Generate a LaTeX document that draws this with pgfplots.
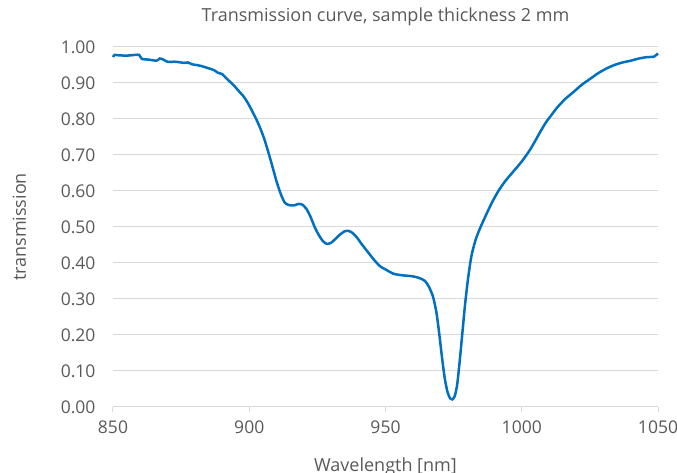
\documentclass[border=0pt]{standalone}
\usepackage{pgfplots}
\pgfplotsset{compat=1.18}
\usepackage{fontspec}
\setmainfont{Open Sans}
\definecolor{txtgray}{HTML}{595959}
\definecolor{gridgray}{HTML}{D9D9D9}
\definecolor{curveblue}{HTML}{0070C0}
\begin{document}
\begin{tikzpicture}
\begin{axis}[
  name=ax,
  scale only axis,
  width=545pt, height=360pt,
  xmin=850, xmax=1050, ymin=0, ymax=1,
  xtick={850,900,...,1050},
  ytick={0,0.1,...,1.01},
  axis x line*=bottom,
  axis y line*=left,
  x axis line style={draw=gridgray, line width=1pt, -},
  y axis line style={draw=none},
  xtick style={draw=gridgray, line width=1pt},
  ytick style={draw=none},
  tick align=outside,
  major tick length=5pt,
  ymajorgrids,
  grid style={draw=gridgray, line width=1pt},
  /pgf/number format/assume math mode=true,
  /pgf/number format/1000 sep={},
  yticklabel style={/pgf/number format/fixed, /pgf/number format/fixed zerofill, /pgf/number format/precision=2},
  ticklabel style={font=\fontsize{17.5}{21}\selectfont, text=txtgray},
  xticklabel style={yshift=-5pt},
  yticklabel style={xshift=-9pt},
  title={Transmission curve, sample thickness 2 mm},
  title style={font=\fontsize{18}{21}\selectfont, text=txtgray, at={(axis description cs:0.5,1)}, anchor=base, yshift=19pt},
  ylabel={transmission},
  ylabel style={font=\fontsize{18}{21}\selectfont, text=txtgray, at={(axis description cs:-0.172,0.5)}, anchor=center},
  xlabel={Wavelength [nm]},
  xlabel style={font=\fontsize{18}{21}\selectfont, text=txtgray, at={(axis description cs:0.5,0)}, anchor=base, yshift=-65pt},
  clip=false,
]
\addplot[curveblue, line width=2.5pt, smooth, tension=0.4] coordinates {
(850,0.972) (850.6,0.978) (852,0.977) (855,0.976) (858,0.978) (859.6,0.978)
(860.6,0.967) (863,0.965) (866,0.962) (867.2,0.968) (868.5,0.965) (870,0.959)
(873,0.959) (876,0.956) (877.5,0.957) (879,0.952) (882,0.948) (885,0.941)
(887,0.936) (888.6,0.928) (890,0.925) (892,0.910) (894,0.896) (896,0.879)
(898,0.862) (899.6,0.843) (901,0.823) (902.6,0.799) (904,0.775) (905.5,0.745)
(907,0.708) (908.5,0.668) (910,0.627) (911.5,0.593) (913,0.568) (914.5,0.561)
(916.5,0.560) (918,0.564) (919.5,0.562) (921,0.550) (922.5,0.528) (924,0.500)
(925.5,0.478) (927,0.461) (928.5,0.453) (930,0.456) (931.5,0.466) (933,0.477)
(935,0.488) (936.5,0.489) (938,0.483) (939.5,0.471) (941.5,0.450) (944,0.426)
(946,0.407) (948,0.391) (950.5,0.380) (953,0.370) (956,0.366) (960,0.363)
(962.5,0.358) (964.5,0.350) (966,0.333) (967.5,0.305) (968.7,0.262)
(969.7,0.205) (970.7,0.140) (971.7,0.082) (972.7,0.043) (973.7,0.024)
(974.5,0.021) (975.4,0.030) (976.3,0.062) (977.2,0.125) (978.2,0.205)
(979.2,0.285) (980.3,0.357) (981.5,0.418) (983,0.463) (984.5,0.493)
(986.5,0.527) (989,0.567) (991.5,0.601) (994,0.628) (997,0.655)
(1000,0.682) (1003,0.714) (1005,0.740) (1007,0.767) (1009,0.792)
(1011,0.812) (1013,0.832) (1016,0.856) (1019,0.875) (1022,0.895)
(1025,0.911) (1028,0.927) (1031,0.940) (1034,0.950) (1037,0.957)
(1040,0.962) (1043,0.968) (1046,0.972) (1048.5,0.973) (1050,0.982)
};
\end{axis}
\pgfresetboundingbox
\path[use as bounding box] ([xshift=-113pt,yshift=-66pt]ax.south west) rectangle ([xshift=19pt,yshift=47pt]ax.north east);
\end{tikzpicture}
\end{document}
